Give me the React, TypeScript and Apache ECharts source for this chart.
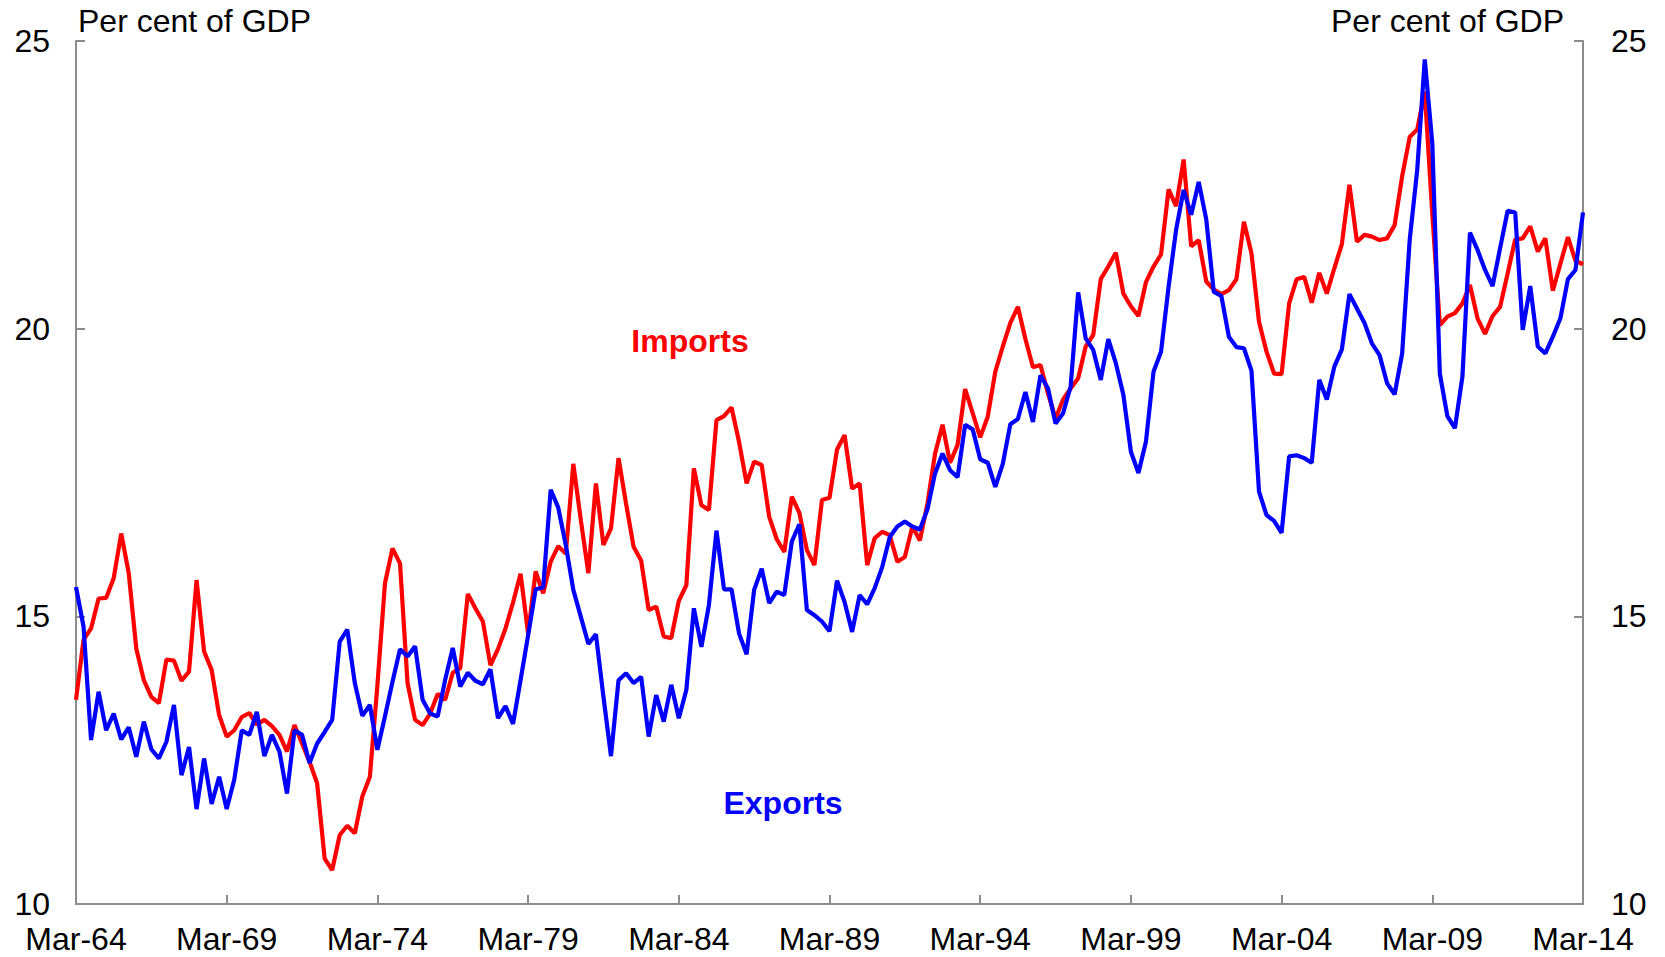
import React, { useEffect, useRef } from "react";
import * as echarts from "echarts";

const startYear = 1964;
const quarterMonths = ["Mar", "Jun", "Sep", "Dec"];
const nQuarters = 201;
const quarters: string[] = [];
for (let i = 0; i < nQuarters; i++) {
  const y = startYear + Math.floor(i / 4);
  quarters.push(quarterMonths[i % 4] + "-" + String(y % 100).padStart(2, "0"));
}

const imports: number[] = [
  13.55, 14.59, 14.79, 15.31, 15.32, 15.66, 16.44, 15.75, 14.44, 13.89,
  13.6, 13.49, 14.25, 14.23, 13.88, 14.04, 15.63, 14.39, 14.07, 13.28,
  12.91, 13.02, 13.25, 13.32, 13.12, 13.2, 13.09, 12.94, 12.65, 13.11,
  12.79, 12.47, 12.1, 10.79, 10.59, 11.2, 11.36, 11.23, 11.87, 12.21,
  13.8, 15.57, 16.18, 15.92, 13.84, 13.2, 13.11, 13.31, 13.65, 13.55,
  14.02, 14.1, 15.39, 15.14, 14.91, 14.15, 14.43, 14.79, 15.24, 15.74,
  14.7, 15.78, 15.4, 15.95, 16.22, 16.09, 17.65, 16.67, 15.75, 17.31,
  16.24, 16.53, 17.75, 16.96, 16.21, 15.97, 15.11, 15.17, 14.65, 14.62,
  15.27, 15.54, 17.57, 16.93, 16.85, 18.41, 18.48, 18.63, 18.03, 17.31,
  17.69, 17.63, 16.73, 16.34, 16.12, 17.08, 16.8, 16.15, 15.89, 17.02,
  17.06, 17.9, 18.15, 17.22, 17.31, 15.89, 16.36, 16.47, 16.41, 15.95,
  16.03, 16.56, 16.32, 16.96, 17.82, 18.33, 17.67, 17.98, 18.95, 18.53,
  18.11, 18.47, 19.25, 19.69, 20.1, 20.38, 19.82, 19.33, 19.37, 18.87,
  18.44, 18.77, 18.96, 19.14, 19.69, 19.89, 20.86, 21.08, 21.32, 20.61,
  20.39, 20.22, 20.81, 21.08, 21.29, 22.42, 22.13, 22.94, 21.43, 21.54,
  20.82, 20.68, 20.6, 20.67, 20.86, 21.86, 21.31, 20.12, 19.6, 19.22,
  19.21, 20.44, 20.86, 20.9, 20.45, 20.97, 20.61, 21.05, 21.47, 22.5,
  21.51, 21.63, 21.6, 21.54, 21.57, 21.8, 22.65, 23.33, 23.46, 24.12,
  22.0, 20.06, 20.21, 20.27, 20.44, 20.76, 20.18, 19.91, 20.22, 20.38,
  20.96, 21.55, 21.57, 21.78, 21.34, 21.57, 20.66, 21.13, 21.59, 21.18,
  21.12,
];

const exports_: number[] = [
  15.51, 14.82, 12.85, 13.69, 13.02, 13.31, 12.86, 13.07, 12.56, 13.17,
  12.69, 12.53, 12.82, 13.46, 12.24, 12.73, 11.65, 12.53, 11.74, 12.21,
  11.65, 12.16, 13.02, 12.94, 13.34, 12.57, 12.94, 12.65, 11.92, 13.02,
  12.94, 12.45, 12.79, 12.99, 13.2, 14.56, 14.77, 13.84, 13.27, 13.46,
  12.68, 13.26, 13.86, 14.43, 14.3, 14.48, 13.55, 13.31, 13.26, 13.9,
  14.45, 13.78, 14.02, 13.88, 13.82, 14.08, 13.23, 13.44, 13.13, 13.89,
  14.67, 15.47, 15.5, 17.2, 16.89, 16.24, 15.46, 14.99, 14.52, 14.69,
  13.6, 12.57, 13.89, 14.01, 13.84, 13.95, 12.91, 13.63, 13.17, 13.81,
  13.23, 13.72, 15.14, 14.47, 15.2, 16.49, 15.47, 15.47, 14.7, 14.34,
  15.46, 15.83, 15.23, 15.43, 15.37, 16.3, 16.6, 15.11, 15.02, 14.91,
  14.74, 15.62, 15.25, 14.73, 15.37, 15.21, 15.49, 15.86, 16.38, 16.56,
  16.65, 16.56, 16.51, 16.86, 17.48, 17.83, 17.54, 17.42, 18.33, 18.25,
  17.73, 17.67, 17.25, 17.65, 18.34, 18.43, 18.9, 18.38, 19.19, 18.96,
  18.35, 18.53, 18.99, 20.63, 19.83, 19.63, 19.11, 19.82, 19.4, 18.85,
  17.86, 17.49, 18.04, 19.25, 19.6, 20.73, 21.72, 22.41, 21.98, 22.55,
  21.9, 20.64, 20.57, 19.86, 19.68, 19.66, 19.27, 17.17, 16.76, 16.66,
  16.45, 17.78, 17.8, 17.75, 17.67, 19.11, 18.77, 19.34, 19.64, 20.6,
  20.35, 20.1, 19.74, 19.54, 19.05, 18.86, 19.57, 21.54, 22.76, 24.68,
  23.22, 19.22, 18.48, 18.27, 19.17, 21.67, 21.37, 21.02, 20.74, 21.4,
  22.05, 22.02, 19.98, 20.74, 19.69, 19.57, 19.86, 20.18, 20.86, 21.02,
  22.02,
];

const yMin = 10;
const yMax = 25;
const yStep = 5;
const tickEvery = 20;
const axisTitle = "Per cent of GDP";
const FONT = "'Liberation Sans', Arial, sans-serif";
const AXIS_GREY = "#8c8c8c";
const FS = 32;

export default function App() {
  const ref = useRef<HTMLDivElement>(null);
  useEffect(() => {
    if (!ref.current) return;
    const chart = echarts.init(ref.current, undefined, { renderer: "svg" });
    const yAxisBase = {
      type: "value",
      min: yMin,
      max: yMax,
      interval: yStep,
      splitLine: { show: false },
      axisLine: { show: true, lineStyle: { color: AXIS_GREY, width: 2 } },
      axisTick: { show: true, inside: true, length: 9, lineStyle: { color: AXIS_GREY, width: 2 } },
    };
    chart.setOption({
      animation: false,
      textStyle: { fontFamily: FONT },
      grid: { left: 76, right: 82, top: 41, bottom: 53, containLabel: false },
      xAxis: {
        type: "category",
        data: quarters,
        boundaryGap: false,
        axisLine: { show: true, lineStyle: { color: AXIS_GREY, width: 2 } },
        axisTick: {
          show: true,
          inside: true,
          length: 9,
          interval: (i: number) => i % tickEvery === 0,
          lineStyle: { color: AXIS_GREY, width: 2 },
        },
        axisLabel: {
          interval: (i: number) => i % tickEvery === 0,
          fontSize: FS,
          color: "#000",
          fontFamily: FONT,
          margin: 19,
        },
        splitLine: { show: false },
      },
      yAxis: [
        {
          ...yAxisBase,
          position: "left",
          axisLabel: { fontSize: FS, color: "#000", fontFamily: FONT, margin: 26 },
        },
        {
          ...yAxisBase,
          position: "right",
          axisLabel: { fontSize: FS, color: "#000", fontFamily: FONT, margin: 28 },
        },
      ],
      series: [
        {
          name: "Imports",
          type: "line",
          data: imports,
          yAxisIndex: 0,
          symbol: "none",
          lineStyle: { color: "#ff0000", width: 4.2 },
          z: 2,
        },
        {
          name: "Exports",
          type: "line",
          data: exports_,
          yAxisIndex: 0,
          symbol: "none",
          lineStyle: { color: "#0000ff", width: 4.2 },
          z: 3,
        },
      ],
      graphic: [
        {
          type: "text",
          left: 78,
          top: 5,
          style: { text: axisTitle, fontSize: FS, fill: "#000", fontFamily: FONT },
        },
        {
          type: "text",
          right: 101,
          top: 5,
          style: { text: axisTitle, fontSize: FS, fill: "#000", fontFamily: FONT },
        },
        {
          type: "text",
          x: 690,
          y: 341,
          style: {
            text: "Imports",
            fontSize: FS,
            fontWeight: "bold",
            fill: "#ff0000",
            fontFamily: FONT,
            align: "center",
            verticalAlign: "middle",
          },
        },
        {
          type: "text",
          x: 783,
          y: 803,
          style: {
            text: "Exports",
            fontSize: FS,
            fontWeight: "bold",
            fill: "#0000ff",
            fontFamily: FONT,
            align: "center",
            verticalAlign: "middle",
          },
        },
      ],
    });
    return () => chart.dispose();
  }, []);
  return (
    <div
      ref={ref}
      style={{ position: "fixed", left: 0, top: 0, width: 1665, height: 957, background: "#fff" }}
    />
  );
}
